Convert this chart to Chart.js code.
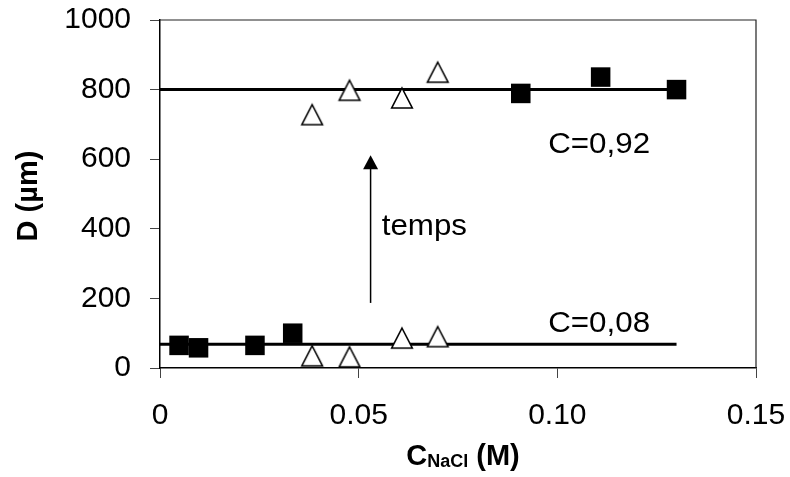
<!DOCTYPE html>
<html>
<head>
<meta charset="utf-8">
<script src="https://cdn.jsdelivr.net/npm/chart.js@4.4.0/dist/chart.umd.min.js"></script>
<style>
  html, body { margin: 0; padding: 0; background: #fff; }
  #wrap { width: 790px; height: 477px; }
</style>
</head>
<body>
<div id="wrap"><canvas id="chart" width="790" height="477"></canvas></div>
<script>
// Data
const squareX = [0.0048, 0.0097, 0.0239, 0.0334, 0.0908, 0.1109, 0.1300];
const squareY = [65, 58, 65, 100, 789, 836, 800];
const triangleX = [0.0383, 0.0477, 0.0609, 0.0699, 0.0383, 0.0477, 0.0609, 0.0699];
const triangleY = [35, 32, 86, 90, 728, 798, 776, 850];

const fitLevels = [800, 68];        // C=0,92 and C=0,08
const fitRange = [0, 0.13];

const arrowX = 0.053;
const arrowY = [187, 611];

const noteTexts = ['C=0,92', 'C=0,08', 'temps'];
const noteX = [0.0977, 0.0977, 0.0558];
const noteY = [617, 104, 382];

const xTicks = [0, 0.05, 0.10, 0.15];
const yTicks = [0, 200, 400, 600, 800, 1000];

const FONT = '"Liberation Sans", Arial, sans-serif';

function pts(xs, ys) { return xs.map((x, i) => ({ x, y: ys[i] })); }

function makeTriangle() {
  const cv = document.createElement('canvas');
  cv.width = 26; cv.height = 26;
  const g = cv.getContext('2d');
  g.beginPath();
  g.moveTo(13, 3); g.lineTo(23.3, 23); g.lineTo(2.7, 23); g.closePath();
  g.fillStyle = '#fff'; g.fill();
  g.lineWidth = 1.6; g.strokeStyle = '#000'; g.stroke();
  return cv;
}

const lineSets = fitLevels.map(v => ({
  type: 'line',
  data: pts(fitRange, [v, v]),
  borderColor: '#000', borderWidth: 3, pointRadius: 0, order: 2,
}));

const arrowSet = {
  type: 'line',
  data: pts([arrowX, arrowX], [arrowY[0], arrowY[1] - 30]),
  borderColor: '#000', borderWidth: 1.5, pointRadius: 0, order: 2,
};

// frame, arrow head, notes and axis titles
const decor = {
  id: 'decor',
  afterDraw(chart) {
    const { ctx, chartArea: a, scales: { x, y } } = chart;
    ctx.save();
    ctx.strokeStyle = '#222'; ctx.lineWidth = 1.2;
    ctx.beginPath();
    ctx.moveTo(a.left, a.top); ctx.lineTo(a.right, a.top); ctx.lineTo(a.right, a.bottom);
    ctx.stroke();

    const ax = x.getPixelForValue(arrowX), ay = y.getPixelForValue(arrowY[1]);
    ctx.fillStyle = '#000';
    ctx.beginPath();
    ctx.moveTo(ax, ay); ctx.lineTo(ax + 7.5, ay + 14); ctx.lineTo(ax - 7.5, ay + 14); ctx.closePath();
    ctx.fill();

    // notes, slightly stretched like the original
    ctx.font = '29px ' + FONT;
    ctx.textAlign = 'left'; ctx.textBaseline = 'alphabetic';
    noteTexts.forEach((t, i) => {
      ctx.save();
      ctx.translate(x.getPixelForValue(noteX[i]), y.getPixelForValue(noteY[i]));
      ctx.scale(1.08, 1);
      ctx.fillText(t, 0, 0);
      ctx.restore();
    });

    // y title
    ctx.save();
    ctx.translate(29, 196);
    ctx.rotate(-Math.PI / 2);
    ctx.font = 'bold 29px ' + FONT;
    ctx.textAlign = 'center'; ctx.textBaseline = 'middle';
    ctx.fillText('D (µm)', 0, 0);
    ctx.restore();

    // x title with subscript
    const big = 'bold 29px ' + FONT, small = 'bold 18px ' + FONT;
    ctx.font = big; const wC = ctx.measureText('C').width, wM = ctx.measureText(' (M)').width;
    ctx.font = small; const wS = ctx.measureText('NaCl').width;
    let cx = 463 - (wC + wS + wM) / 2;
    const base = 465;
    ctx.textAlign = 'left';
    ctx.font = big; ctx.fillText('C', cx, base); cx += wC;
    ctx.font = small; ctx.fillText('NaCl', cx, base + 2); cx += wS;
    ctx.font = big; ctx.fillText(' (M)', cx, base);
    ctx.restore();
  }
};

new Chart(document.getElementById('chart'), {
  type: 'scatter',
  data: {
    datasets: [
      {
        data: pts(squareX, squareY),
        pointStyle: 'rect', pointRadius: 13.8, pointHoverRadius: 13.8,
        backgroundColor: '#000', borderColor: '#000', borderWidth: 0, order: 0,
      },
      {
        data: pts(triangleX, triangleY),
        pointStyle: makeTriangle(), order: 0,
      },
      ...lineSets,
      arrowSet,
    ],
  },
  options: {
    responsive: false,
    animation: false,
    events: [],
    layout: { padding: { top: 20, right: 34, left: 0, bottom: 0 } },
    plugins: { legend: { display: false }, tooltip: { enabled: false } },
    scales: {
      x: {
        type: 'linear', min: 0, max: 0.15,
        afterFit: s => { s.height = 109; s.paddingLeft = 0; s.paddingRight = 0; },
        afterBuildTicks: s => { s.ticks = xTicks.map(v => ({ value: v })); },
        border: { display: true, color: '#000', width: 1.5 },
        grid: { drawOnChartArea: false, drawTicks: true, tickLength: 10, tickColor: '#444', tickWidth: 1 },
        ticks: {
          color: '#000', padding: 20, font: { family: FONT, size: 30 },
          callback: v => v === 0 ? '0' : v.toFixed(2),
        },
      },
      y: {
        type: 'linear', min: 0, max: 1000,
        afterFit: s => { s.width = 160; s.paddingTop = 0; s.paddingBottom = 0; },
        afterBuildTicks: s => { s.ticks = yTicks.map(v => ({ value: v })); },
        border: { display: true, color: '#000', width: 1.5 },
        grid: { drawOnChartArea: false, drawTicks: true, tickLength: 10, tickColor: '#444', tickWidth: 1 },
        ticks: { color: '#000', padding: 19, font: { family: FONT, size: 30 }, callback: v => String(v) },
      },
    },
  },
  plugins: [decor],
});
</script>
</body>
</html>
